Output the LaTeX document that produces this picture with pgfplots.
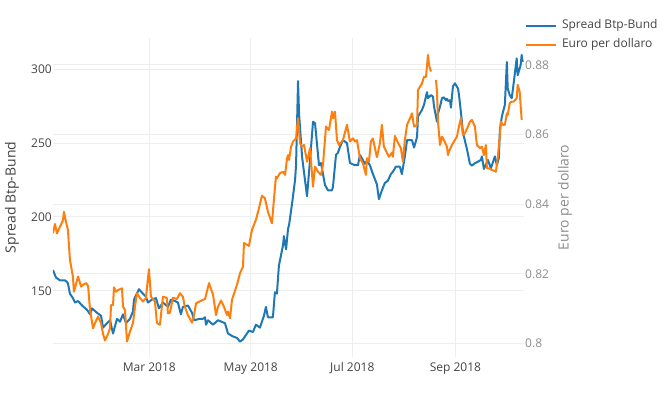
\documentclass[border=0pt]{standalone}
\usepackage{fontspec}
\setmainfont{Open Sans}
\usepackage{pgfplots}
\usepackage{pgfplotstable}
\pgfplotsset{compat=1.18}
\definecolor{sblue}{HTML}{1F77B4}
\definecolor{sorange}{HTML}{FF7F0E}
\definecolor{gridc}{HTML}{EEEEEE}
\definecolor{txt}{HTML}{444444}
\definecolor{txtr}{HTML}{8C8C8C}

% day of 2018 (0 = 1 Jan), spread in basis points
\pgfplotstableread{
day val
1.1 164
2.9 159
5.3 157
7.7 157
8.3 157
9.5 156
10.1 155
11.3 148
13.1 145
14.4 142
16.2 143
18.6 140
21.6 137
23.4 134
24.6 138
27.6 135
30.0 133
31.2 125
33.6 128
35.4 130
37.2 121
39.6 131
41.4 129
43.2 134
45.0 128
47.4 131
49.2 136
49.8 144
52.8 151
55.2 148
57.0 146
58.2 142
60.6 144
63.0 145
64.8 138
67.2 142
70.2 139
72.0 144
74.4 143
76.2 142
78.0 134
79.2 139
82.2 140
84.7 135
85.9 130
89.5 131
91.3 131
92.5 132
93.1 127
94.3 130
97.3 127
100.3 130
104.5 128
106.3 121
109.3 119
111.7 118
113.5 115.5
115.3 117
118.9 123
121.3 122
123.1 127
125.5 125
127.9 133
129.1 139
130.3 132
133.3 132
134.5 149
135.7 148
136.9 167
139.4 181
139.9 187
141.2 178
142.4 192
143.0 194.5
144.8 209
146.6 225
147.2 235
148.4 292
149.0 270
150.8 241
152.0 230
153.8 214
155.6 238.5
157.4 264.5
158.6 263.5
161.0 235
162.2 236.5
164.6 221.6
166.4 218
168.8 218
169.4 220.5
171.2 242
172.4 243.5
173.6 247.5
175.4 252
177.8 250
179.6 236.5
182.6 235
184.4 235
185.6 242
188.6 236
189.8 238
191.6 235
193.4 229
194.6 225.6
195.8 222
197.0 212
198.8 218
200.6 223
202.4 224.5
204.2 229
205.4 230.6
207.2 234
209.6 234
210.8 229
212.6 241
213.9 252
216.9 252
218.1 247
219.9 254
220.5 268
222.9 272.5
224.1 276
225.9 284.5
226.5 280.5
228.3 282.5
229.5 281.5
230.1 275
231.9 264.5
232.5 270
233.7 274.6
234.9 280.4
236.1 281
237.3 279
237.9 280
238.5 278.6
239.7 279
240.3 274
241.5 288.5
242.7 290.5
244.5 287
245.1 283
246.9 264.5
247.5 257
249.9 246
251.7 236
252.9 234.8
254.7 236.4
256.5 237.4
258.3 238.6
258.9 241
260.1 232.5
261.9 236.8
262.5 238.6
264.3 233
265.5 237
266.7 241
267.9 235
269.1 240
269.7 259
270.9 268
272.7 276
273.9 305
274.4 287
275.6 282.6
276.8 280.4
277.6 287
279.8 307.4
280.4 296
282.2 302.9
282.8 309.7
283.4 305
}\spread

% day of 2018, euro per dollar
\pgfplotstableread{
day val
1.1 0.8316
2.3 0.8343
3.5 0.8316
5.3 0.8335
7.1 0.8353
7.7 0.8378
8.9 0.8350
10.1 0.8326
11.3 0.8240
13.1 0.8192
13.7 0.8148
16.2 0.8192
18.0 0.8163
19.2 0.8168
21.0 0.8173
22.2 0.8165
23.4 0.8096
25.2 0.8043
26.4 0.8058
28.2 0.8077
30.0 0.8058
31.2 0.8027
32.4 0.8008
34.2 0.8027
35.4 0.8043
36.0 0.8110
37.2 0.8110
37.8 0.8161
39.0 0.8148
40.2 0.8153
42.6 0.8158
43.2 0.8105
44.4 0.8096
45.6 0.8005
47.4 0.8034
49.2 0.8058
50.4 0.8105
51.6 0.8144
53.4 0.8130
55.2 0.8120
57.0 0.8130
58.2 0.8187
58.8 0.8213
60.0 0.8134
62.4 0.8120
63.6 0.8058
65.4 0.8053
67.2 0.8134
69.6 0.8130
70.2 0.8086
71.4 0.8088
73.2 0.8131
75.6 0.8127
77.4 0.8144
79.2 0.8134
80.4 0.8105
82.2 0.8081
84.7 0.8059
85.9 0.8081
87.1 0.8115
91.3 0.8125
92.5 0.8127
94.9 0.8173
97.3 0.8140
99.1 0.8081
100.3 0.8105
102.1 0.8123
103.9 0.8105
105.7 0.8081
106.3 0.8091
107.5 0.8072
108.7 0.8125
111.7 0.8168
113.5 0.8201
115.3 0.8220
115.9 0.8288
118.9 0.8280
120.7 0.8326
123.1 0.8355
124.9 0.8388
126.7 0.8424
128.5 0.8417
130.3 0.8378
132.7 0.8345
133.9 0.8412
135.1 0.8479
135.7 0.8474
137.5 0.8489
139.4 0.8493
140.6 0.8484
141.8 0.8532
142.4 0.8541
143.0 0.8527
144.2 0.8565
145.4 0.8580
147.2 0.8589
148.4 0.8647
149.6 0.8575
150.8 0.8565
152.0 0.8570
153.8 0.8522
155.6 0.8561
157.4 0.8450
158.6 0.8508
160.4 0.8493
162.2 0.8484
163.4 0.8513
165.2 0.8623
167.0 0.8613
168.8 0.8666
169.4 0.8647
170.6 0.8666
171.8 0.8584
173.0 0.8570
175.4 0.8584
177.8 0.8628
179.6 0.8580
181.4 0.8589
182.6 0.8580
183.8 0.8584
185.6 0.8532
187.4 0.8517
189.2 0.8484
189.8 0.8532
191.0 0.8522
192.2 0.8580
193.4 0.8589
194.6 0.8561
195.8 0.8535
197.6 0.8575
198.8 0.8628
200.0 0.8565
201.8 0.8548
203.0 0.8536
204.8 0.8548
205.4 0.8536
206.6 0.8596
208.4 0.8577
210.2 0.8561
211.4 0.8522
212.6 0.8584
213.9 0.8628
215.7 0.8647
216.9 0.8661
218.1 0.8623
219.9 0.8628
220.5 0.8728
222.9 0.8747
224.1 0.8766
225.3 0.8766
226.5 0.8829
227.1 0.8800
228.3 0.8781
229.8 nan
231.3 0.8757
231.9 0.8723
232.5 0.8637
233.7 0.8570
234.9 0.8594
236.1 0.8584
237.9 0.8565
238.5 0.8541
239.1 0.8551
240.9 0.8570
242.1 0.8580
243.9 0.8594
245.1 0.8623
246.3 0.8647
247.5 0.8599
248.7 0.8604
250.5 0.8623
251.7 0.8637
252.9 0.8642
254.7 0.8623
255.9 0.8570
257.7 0.8561
258.9 0.8565
260.1 0.8541
261.3 0.8570
261.9 0.8503
263.1 0.8503
264.9 0.8498
266.7 0.8495
267.3 0.8493
268.5 0.8536
269.7 0.8599
270.3 0.8637
271.5 0.8628
272.7 0.8628
273.9 0.8661
274.4 0.8656
275.6 0.8690
276.8 0.8695
278.0 0.8695
279.8 0.8704
280.4 0.8743
281.6 0.8723
282.8 0.8642
}\euro

\pgfplotsset{
  base/.style={
    at={(0pt,0pt)}, anchor=south west,
    scale only axis, width=352.875pt, height=239.25pt,
    xmin=1.13, xmax=283.9,
    axis line style={draw=none},
    major tick length=0pt,
    tick label style={font=\fontsize{9}{10}\selectfont, /pgf/number format/assume math mode=true},
    grid style={gridc, line width=0.75pt},
    clip=true,
  },
  leftscale/.style={ymin=105.1, ymax=321.2},
  rightscale/.style={ymin=0.79606, ymax=0.88776},
}

\begin{document}
\begin{tikzpicture}
\useasboundingbox (-39.75pt,-30.75pt) rectangle (461.25pt,267.75pt);

% right-scale grid and labels
\begin{axis}[base, rightscale,
  xtick=\empty,
  ytick={0.80,0.82,0.84,0.86,0.88},
  yticklabels={0.8,0.82,0.84,0.86,0.88},
  ymajorgrids,
  yticklabel pos=right,
  yticklabel style={txtr, anchor=west, inner sep=0pt, text height=6.5pt, text depth=0pt, xshift=1.1pt},
  ylabel={Euro per dollaro},
  ylabel style={at={(axis description cs:1.0882,0.5)}, anchor=center, txtr, font=\fontsize{10.5}{12}\selectfont},
]
\end{axis}

% left-scale axis with spread
\begin{axis}[base, leftscale,
  ytick={150,200,250,300},
  ymajorgrids, xmajorgrids,
  xtick={59,120,181,243},
  xticklabels={Mar 2018,May 2018,Jul 2018,Sep 2018},
  xticklabel style={txt, anchor=north, inner sep=0pt, text height=6.5pt, text depth=0pt, yshift=-4.25pt},
  yticklabel style={txt, anchor=east, inner sep=0pt, text height=6.5pt, text depth=0pt, xshift=-0.75pt},
  ylabel={Spread Btp-Bund},
  ylabel style={at={(axis description cs:-0.0871,0.5)}, anchor=center, txt, font=\fontsize{10.5}{12}\selectfont},
]
\addplot[sblue, line width=1.5pt, line join=round] table[x=day, y=val] {\spread};
\end{axis}

% right-scale euro line and legend
\begin{axis}[base, rightscale,
  hide axis,
  unbounded coords=jump,
  legend image code/.code={\draw[#1] (0pt,0pt) -- (22.5pt,0pt);},
  legend style={at={(axis description cs:1.0032,1.0564)}, anchor=north west,
    draw=none, fill=none, inner sep=0pt, outer sep=0pt,
    font=\fontsize{9}{10}\selectfont, text=txt,
    nodes={inner sep=0pt, text height=6.5pt, text depth=2pt},
    row sep=6pt, column sep=3.75pt},
  legend cell align=left,
]
\addlegendimage{sblue, line width=1.5pt}
\addlegendentry{Spread Btp-Bund}
\addplot[sorange, line width=1.5pt, line join=round] table[x=day, y=val] {\euro};
\addlegendentry{Euro per dollaro}
\end{axis}
\end{tikzpicture}
\end{document}
